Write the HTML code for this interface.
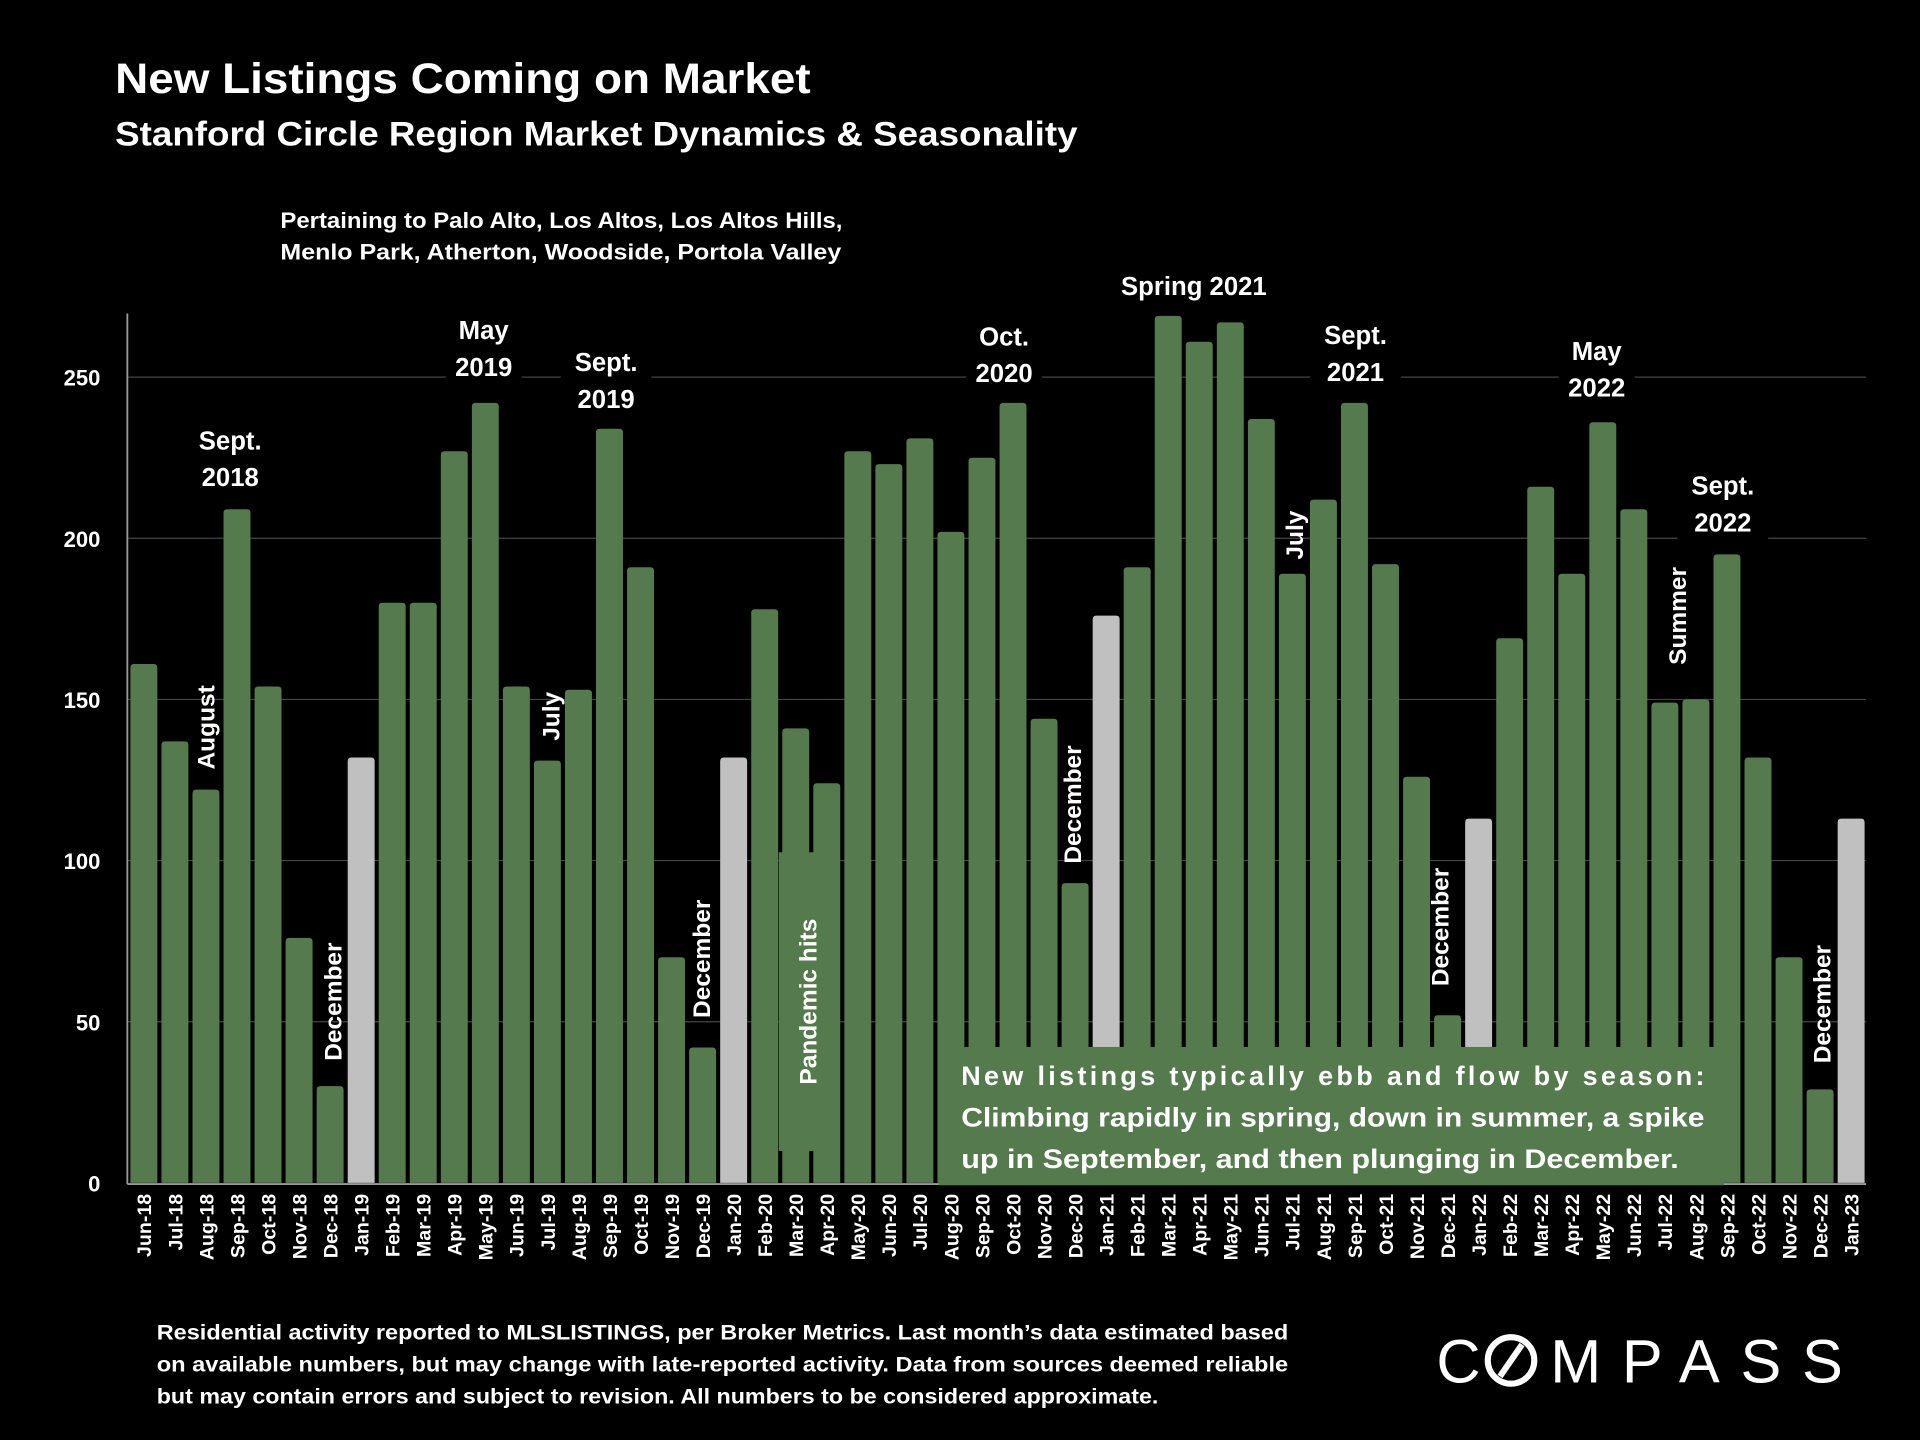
<!DOCTYPE html>
<html><head><meta charset="utf-8"><style>
html,body{margin:0;padding:0;background:#000;}
svg{display:block;font-family:"Liberation Sans",Carlito,sans-serif;font-weight:bold;}
</style></head><body>
<svg width="1920" height="1440" viewBox="0 0 1568 1176">
<text x="94" y="76" fill="#fff" font-size="35" textLength="568" lengthAdjust="spacingAndGlyphs">New Listings Coming on Market</text>
<text x="94" y="119" fill="#fff" font-size="28" textLength="786" lengthAdjust="spacingAndGlyphs">Stanford Circle Region Market Dynamics &amp; Seasonality</text>
<text fill="#fff" font-size="18"><tspan x="229" y="186" textLength="459" lengthAdjust="spacingAndGlyphs">Pertaining to Palo Alto, Los Altos, Los Altos Hills,</tspan><tspan x="229" y="212" textLength="458" lengthAdjust="spacingAndGlyphs">Menlo Park, Atherton, Woodside, Portola Valley</tspan></text>
<g id="grid"></g>
<g id="bars"></g>
<g id="xlabels"></g>
<g id="ann"></g>
<g>
<text fill="#fff" font-size="17"><tspan x="128" y="1094" textLength="924" lengthAdjust="spacingAndGlyphs">Residential activity reported to MLSLISTINGS, per Broker Metrics. Last month’s data estimated based</tspan><tspan x="128" y="1120" textLength="924" lengthAdjust="spacingAndGlyphs">on available numbers, but may change with late-reported activity. Data from sources deemed reliable</tspan><tspan x="128" y="1146" textLength="818" lengthAdjust="spacingAndGlyphs">but may contain errors and subject to revision. All numbers to be considered approximate.</tspan></text>
</g>
<g>
<text x="1173" y="1129" fill="#fff" font-size="50" font-weight="normal">C</text>
<circle cx="1234" cy="1111" r="19" fill="none" stroke="#fff" stroke-width="5"/>
<line x1="1225" y1="1124" x2="1243" y2="1098" stroke="#fff" stroke-width="5"/>
<text x="1266" y="1129" fill="#fff" font-size="50" font-weight="normal" textLength="239" lengthAdjust="spacing">MPASS</text>
</g>
</svg>
<script>
const categories=["Jun-18","Jul-18","Aug-18","Sep-18","Oct-18","Nov-18","Dec-18","Jan-19","Feb-19","Mar-19","Apr-19","May-19","Jun-19","Jul-19","Aug-19","Sep-19","Oct-19","Nov-19","Dec-19","Jan-20","Feb-20","Mar-20","Apr-20","May-20","Jun-20","Jul-20","Aug-20","Sep-20","Oct-20","Nov-20","Dec-20","Jan-21","Feb-21","Mar-21","Apr-21","May-21","Jun-21","Jul-21","Aug-21","Sep-21","Oct-21","Nov-21","Dec-21","Jan-22","Feb-22","Mar-22","Apr-22","May-22","Jun-22","Jul-22","Aug-22","Sep-22","Oct-22","Nov-22","Dec-22","Jan-23"];
const values=[161,137,122,209,154,76,30,132,180,180,227,242,154,131,153,234,191,70,42,132,178,141,124,227,223,231,202,225,242,144,93,176,191,269,261,267,237,189,212,242,192,126,52,113,169,216,189,236,209,149,150,195,132,70,29,113];
const yTicks=[0,50,100,150,200,250];
const NS="http://www.w3.org/2000/svg";
const x0=104,x1=1524,yBase=966,pxPerUnit=2.632,firstC=117.5,step=25.35,bw=22;
const y=v=>yBase-v*pxPerUnit;
const xc=i=>firstC+i*step;
function mk(tag,attrs,parent){const e=document.createElementNS(NS,tag);for(const k in attrs)e.setAttribute(k,attrs[k]);parent.appendChild(e);return e;}
const grid=document.getElementById('grid');
yTicks.forEach(t=>{
  if(t>0){const l=mk('line',{x1:x0,x2:x1,y1:y(t),y2:y(t),stroke:'#444','stroke-width':1},grid);
  
  }
  const tx=mk('text',{x:82,y:y(t)+7,fill:'#fff','font-size':18,'text-anchor':'end'},grid);
  tx.textContent=t;
  
  
});
const ax=mk('line',{x1:x0,x2:x0,y1:256,y2:967,stroke:'#999','stroke-width':1.5},grid);


const bars=document.getElementById('bars');
values.forEach((v,i)=>{
  const gray=categories[i].startsWith('Jan');
  const r=mk('path',{},bars);
  const L=xc(i)-bw/2,T=y(v),R=L+bw,rr=3;
  r.setAttribute('d',`M${L},${yBase}V${T+rr}Q${L},${T} ${L+rr},${T}H${R-rr}Q${R},${T} ${R},${T+rr}V${yBase}Z`);
  r.setAttribute('fill',gray?'#c0c0c0':'#547a4e');
  
  
});
const bl=mk('line',{x1:x0,x2:x1,y1:yBase+1,y2:yBase+1,stroke:'#999','stroke-width':1.5},bars);


const xl=document.getElementById('xlabels');
categories.forEach((c,i)=>{
  const t=mk('text',{transform:`translate(${xc(i)+6},975) rotate(-90)`,fill:'#fff','font-size':16,'text-anchor':'end'},xl);
  t.textContent=c;
  
  
});
const ann=document.getElementById('ann');
const hLabels=[[["Sept.","2018"],188,367],[["May","2019"],395,277],[["Sept.","2019"],495,303],[["Oct.","2020"],820,282],[["Spring 2021"],975,241],[["Sept.","2021"],1107,281],[["May","2022"],1304,294],[["Sept.","2022"],1407,404]];
hLabels.forEach(([lines,cx,by])=>{
  const w=Math.max(...lines.map(s=>s.length))*12+14;
  const bg=mk('rect',{x:cx-w/2,y:by-22,width:w,height:lines.length*30+4,fill:'#000'},ann);
  
  
  lines.forEach((s,j)=>{
    const t=mk('text',{x:cx,y:by+j*30,fill:'#fff','font-size':21,'text-anchor':'middle'},ann);
    t.textContent=s;
    
    
  });
});
const pb=mk('rect',{x:636,y:696,width:50,height:244,fill:'#547a4e'},ann);


const vLabels=[["August",168,594],["December",272,818],["July",450,585],["December",573,783],["Pandemic hits",660,818],["December",876,657],["July",1057,437],["December",1176,757],["Summer",1370,503],["December",1488,820]];
vLabels.forEach(([s,cx,cy])=>{
  const t=mk('text',{transform:`translate(${cx+7},${cy}) rotate(-90)`,fill:'#fff','font-size':20,'text-anchor':'middle'},ann);
  t.textContent=s;
  
  
});
const box=mk('rect',{x:767,y:855,width:641,height:113,fill:'#547a4e'},ann);


const bt=["New listings typically ebb and flow by season:","Climbing rapidly in spring, down in summer, a spike","up in September, and then plunging in December."];
const btLen=[607,607,586];
bt.forEach((s,j)=>{
  const a={x:785,y:886+j*34,fill:'#fff','font-size':22,textLength:btLen[j],lengthAdjust:j==0?'spacing':'spacingAndGlyphs'};
  const t=mk('text',a,ann);
  t.textContent=s;
  
  
});
</script>
</body></html>
